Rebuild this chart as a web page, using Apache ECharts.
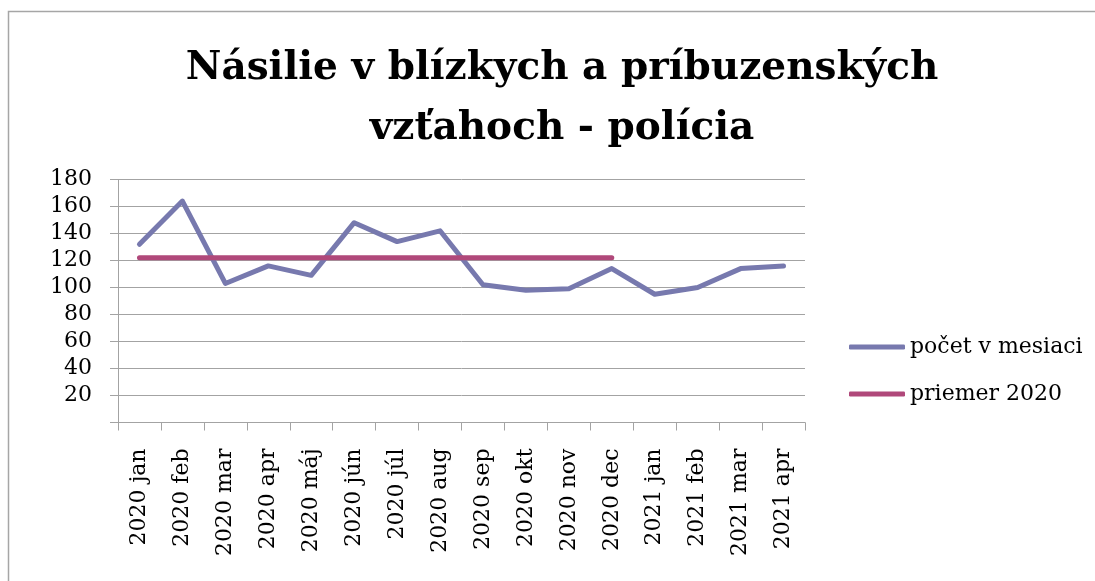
<!DOCTYPE html>
<html>
<head>
<meta charset="utf-8">
<script src="https://cdn.jsdelivr.net/npm/echarts@6/dist/echarts.min.js"></script>
<style>
  html, body { margin: 0; padding: 0; background: #fff; }
  #chart { width: 1095px; height: 581px; }
</style>
</head>
<body>
<div id="chart"></div>
<script>
// data
const months = [
  "2020 jan", "2020 feb", "2020 mar", "2020 apr", "2020 máj", "2020 jún",
  "2020 júl", "2020 aug", "2020 sep", "2020 okt", "2020 nov", "2020 dec",
  "2021 jan", "2021 feb", "2021 mar", "2021 apr",
];
const perMonth = [132, 164, 103, 116, 109, 148, 134, 142, 102, 98, 99, 114, 95, 100, 114, 116];
const avg2020 = [122, 122, 122, 122, 122, 122, 122, 122, 122, 122, 122, 122, "-", "-", "-", "-"];
const seriesNames = ["počet v mesiaci", "priemer 2020"];

const serif = "DejaVu Serif";
const gridGray = "#a3a3a3";
const blue = "#7779ae";
const pink = "#b0487a";

var myChart = echarts.init(document.getElementById("chart"));
var option = {
  animation: false,
  title: {
    text: "Násilie v blízkych a príbuzenských\nvzťahoch - polícia",
    left: 557,
    textAlign: "center",
    top: 34,
    textStyle: {
      fontFamily: serif,
      fontWeight: "bold",
      fontSize: 39,
      lineHeight: 60,
      color: "#000",
    },
  },
  graphic: [
    {
      type: "rect",
      shape: { x: 8.5, y: 11.5, width: 1200, height: 700 },
      style: { fill: "none", stroke: "#a6a6a6", lineWidth: 1.5 },
      silent: true,
    },
  ],
  legend: {
    orient: "vertical",
    left: 844,
    top: 331,
    itemWidth: 56,
    itemHeight: 5,
    itemGap: 25,
    icon: "roundRect",
    data: seriesNames,
    textStyle: { fontFamily: serif, fontSize: 22, lineHeight: 22, color: "#000" },
  },
  grid: { left: 118, right: 290, top: 179.5, bottom: 158.5 },
  xAxis: {
    type: "category",
    data: months,
    boundaryGap: true,
    axisLine: { lineStyle: { color: gridGray, width: 1 } },
    axisTick: { show: true, length: 8, lineStyle: { color: gridGray } },
    axisLabel: {
      rotate: 90,
      interval: 0,
      margin: 26,
      fontFamily: serif,
      fontSize: 22,
      color: "#000",
    },
  },
  yAxis: {
    type: "value",
    min: 0,
    max: 180,
    interval: 20,
    axisLine: { show: true, lineStyle: { color: gridGray, width: 1 } },
    axisTick: { show: true, length: 8, lineStyle: { color: gridGray } },
    splitLine: { lineStyle: { color: gridGray, width: 1 } },
    axisLabel: {
      margin: 26,
      fontFamily: serif,
      fontSize: 22,
      color: "#000",
      formatter: (v) => (v === 0 ? "" : v),
    },
  },
  series: [
    {
      name: seriesNames[0],
      type: "line",
      data: perMonth,
      symbol: "none",
      color: blue,
      lineStyle: { width: 5, color: blue, cap: "round", join: "round" },
    },
    {
      name: seriesNames[1],
      type: "line",
      data: avg2020,
      symbol: "none",
      color: pink,
      lineStyle: { width: 5, color: pink, cap: "round", join: "round" },
    },
  ],
};
myChart.setOption(option);
</script>
</body>
</html>
